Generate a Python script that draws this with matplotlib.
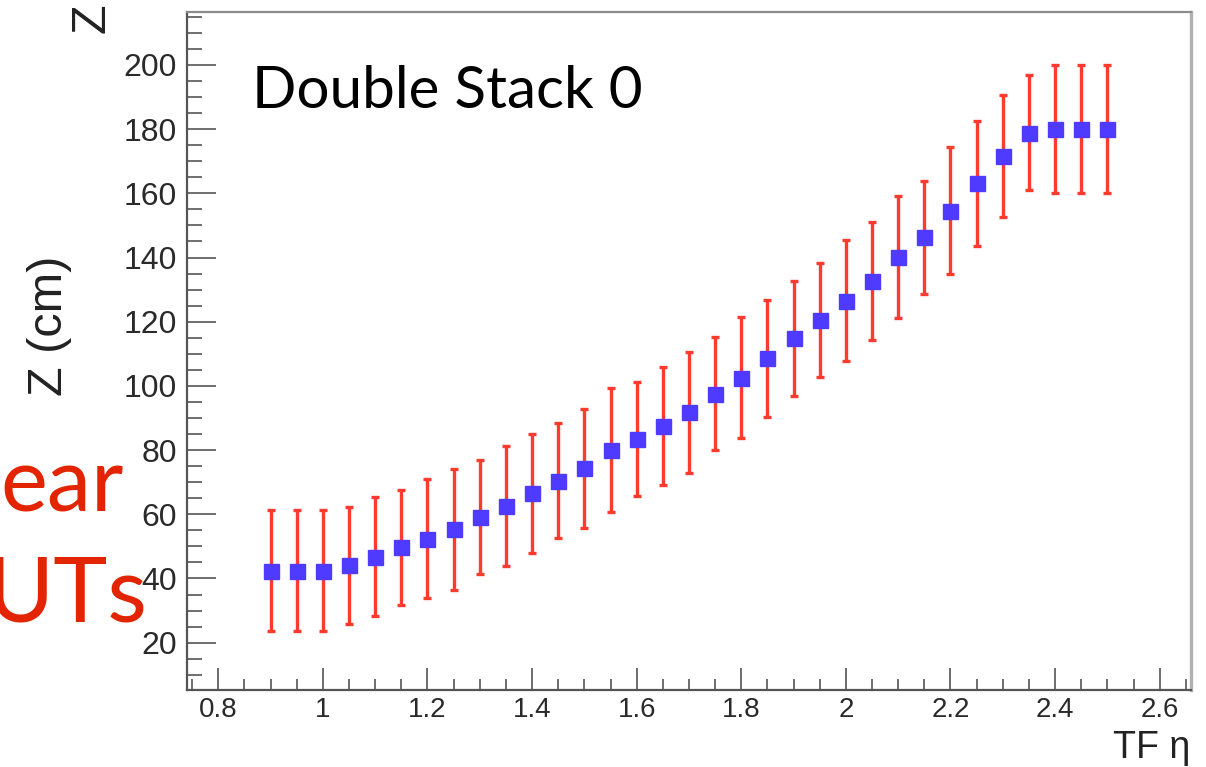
import matplotlib
matplotlib.use("Agg")
import matplotlib.pyplot as plt
from matplotlib.ticker import MultipleLocator, FuncFormatter

# z position of the double stack vs trigger-frame eta
eta = [0.90, 0.95, 1.00, 1.05, 1.10, 1.15, 1.20, 1.25, 1.30, 1.35, 1.40,
       1.45, 1.50, 1.55, 1.60, 1.65, 1.70, 1.75, 1.80, 1.85, 1.90, 1.95,
       2.00, 2.05, 2.10, 2.15, 2.20, 2.25, 2.30, 2.35, 2.40, 2.45, 2.50]
z_cm = [42.4, 42.4, 42.4, 44.1, 46.8, 49.7, 52.4, 55.3, 59.2, 62.7, 66.5,
        70.5, 74.3, 80.0, 83.5, 87.5, 91.8, 97.5, 102.6, 108.6, 114.9, 120.5,
        126.6, 132.8, 140.1, 146.3, 154.6, 163.1, 171.6, 178.9, 180.0, 180.0, 180.0]
z_err = [18.8, 18.8, 18.8, 18.2, 18.5, 18.0, 18.6, 18.8, 17.8, 18.7, 18.5,
         18.0, 18.5, 19.2, 17.7, 18.5, 18.9, 17.6, 18.8, 18.3, 17.9, 17.7,
         18.9, 18.4, 19.1, 17.6, 19.7, 19.5, 19.1, 18.0, 19.9, 19.9, 19.9]

x_range = (0.74, 2.66)
y_range = (5.26, 216.5)

fig = plt.figure(figsize=(12.06, 7.67), dpi=100)
ax = fig.add_axes([0.155, 0.1004, 0.8326, 0.884])

ax.errorbar(eta, z_cm, yerr=z_err, fmt="none", ecolor="#ff3b2f",
            elinewidth=2.4, capsize=2.6, capthick=2.4, zorder=2)
ax.plot(eta, z_cm, ls="none", marker="s", ms=10.8, color="#4f3bff",
        mec="#4f3bff", zorder=3)

ax.set_xlim(*x_range)
ax.set_ylim(*y_range)

fmt = FuncFormatter(lambda v, p: f"{v:g}")
ax.xaxis.set_major_locator(MultipleLocator(0.2))
ax.xaxis.set_minor_locator(MultipleLocator(0.05))
ax.xaxis.set_major_formatter(fmt)
ax.yaxis.set_major_locator(MultipleLocator(20))
ax.yaxis.set_minor_locator(MultipleLocator(5))
ax.yaxis.set_major_formatter(fmt)

ax.tick_params(axis="x", which="major", direction="in", length=15.8, width=1.2,
               color="#555555", labelsize=20, labelcolor="#2a2a2a", pad=5)
ax.tick_params(axis="x", which="minor", direction="in", length=7.9, width=1.2,
               color="#555555")
ax.tick_params(axis="y", which="major", direction="in", length=21, width=1.2,
               color="#555555", labelsize=23, labelcolor="#2a2a2a", pad=7)
ax.tick_params(axis="y", which="minor", direction="in", length=10.8, width=1.2,
               color="#555555")
for lbl in ax.get_xticklabels() + ax.get_yticklabels():
    lbl.set_family("Liberation Sans")

for side in ("left", "bottom"):
    ax.spines[side].set_color("#555555")
    ax.spines[side].set_linewidth(1.6)
ax.spines["top"].set_color("#8c8c8c")
ax.spines["top"].set_linewidth(1.6)
ax.spines["right"].set_color("#b0b0b0")
ax.spines["right"].set_linewidth(2.4)

# axis titles, ROOT style
fig.text(1190 / 1206, 1 - 758 / 767, "TF η", ha="right", va="baseline",
         fontsize=27, family="Liberation Sans", color="#222222")
fig.text(49 / 1206, 1 - 326 / 767, "Z (cm)", rotation=90, ha="center",
         va="center", fontsize=35, family="Liberation Sans", color="#222222")
fig.text(92 / 1206, 1 - 18 / 767, "Z", rotation=90, ha="center",
         va="center", fontsize=35, family="Liberation Sans", color="#222222")

# slide annotations
ax.text(252 / 1206, 1 - 108 / 767, "Double Stack 0", transform=fig.transFigure,
        ha="left", va="baseline", fontsize=42, family="Lato", color="black")
fig.text(124 / 1206, 1 - 512 / 767, "ear", ha="right", va="baseline",
         fontsize=64, family="Lato", color="#e32400")
fig.text(148 / 1206, 1 - 622 / 767, "UTs", ha="right", va="baseline",
         fontsize=66, family="Lato", color="#e32400")

fig.savefig("out.png", dpi=100)
